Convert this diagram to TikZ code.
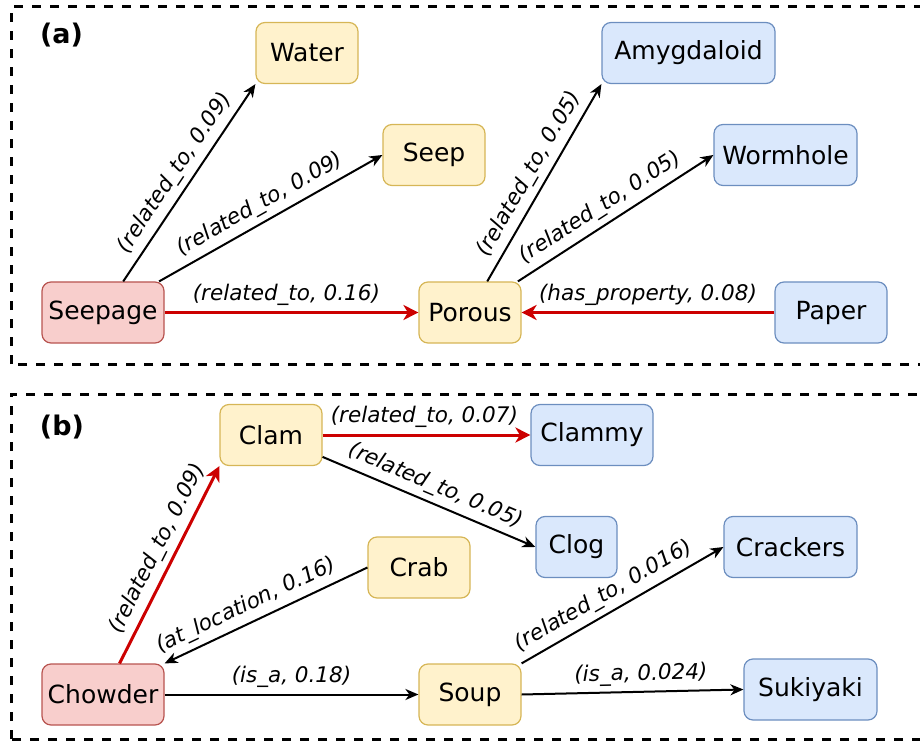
\documentclass[tikz,border=0pt]{standalone}
\usepackage{fontspec}
\setmainfont{DejaVu Sans}
\usetikzlibrary{arrows.meta}
\definecolor{yfill}{HTML}{FFF2CC}
\definecolor{ydraw}{HTML}{D6B656}
\definecolor{bfill}{HTML}{DAE8FC}
\definecolor{bdraw}{HTML}{6C8EBF}
\definecolor{rfill}{HTML}{F8CECC}
\definecolor{rdraw}{HTML}{B85450}
\definecolor{linkred}{HTML}{CC0000}
\begin{document}
\begin{tikzpicture}[
        x=1pt, y=1pt,
        every node/.style={font=\fontsize{25}{30}\selectfont},
        concept/.style={draw, rounded corners=9pt, minimum height=61pt, line width=1.2pt, inner sep=2pt},
        yellown/.style={concept, fill=yfill, draw=ydraw},
        bluen/.style={concept, fill=bfill, draw=bdraw},
        redn/.style={concept, fill=rfill, draw=rdraw},
        rel/.style={draw, line width=2pt, -{Stealth[length=13pt, width=11pt, inset=4pt]}},
        strong/.style={draw=linkred, line width=3pt, -{Stealth[length=15pt, width=15pt, inset=4.5pt]}},
        lbl/.style={font=\fontsize{21.5}{26}\selectfont\itshape, sloped, above, inner sep=5.5pt},
        panel/.style={draw, line width=3pt, dash pattern=on 9pt off 9pt},
        tag/.style={font=\fontsize{27}{30}\selectfont\bfseries},
    ]
    \useasboundingbox (0,0) rectangle (920,740);
    \clip (0,0) rectangle (920,740);
    \draw[panel] (11,376) rectangle (940,733);
    \draw[panel] (11,1) rectangle (940,346);
    \node[tag] (taga) at (61.5,705) {(a)};
    \node[tag] (tagb) at (62,313) {(b)};

    % (a)
    \node[redn, minimum width=122pt] (seepage) at (103,427.5) {Seepage};
    \node[yellown, minimum width=102pt] (water) at (307,687) {Water};
    \node[yellown, minimum width=102pt] (seep) at (434,585) {Seep};
    \node[yellown, minimum width=102pt] (porous) at (470,427.5) {Porous};
    \node[bluen, minimum width=173pt] (amygdaloid) at (688.5,687) {Amygdaloid};
    \node[bluen, minimum width=143pt] (wormhole) at (785.5,585) {Wormhole};
    \node[bluen, minimum width=112pt] (paper) at (831,427.5) {Paper};

    \draw[rel] (seepage.57) -- node[lbl, pos=0.5] {(related\_to, 0.09)} (water.south west);
    \draw[rel] (seepage.29.5) -- node[lbl, pos=0.49] {(related\_to, 0.09)} (seep.west);
    \draw[strong] (seepage.east) -- node[lbl, pos=0.48] {(related\_to, 0.16)} (porous.west);
    \draw[rel] (porous.61) -- node[lbl, pos=0.5] {(related\_to, 0.05)} (amygdaloid.south west);
    \draw[rel] (porous.33) -- node[lbl, pos=0.47] {(related\_to, 0.05)} (wormhole.west);
    \draw[strong] (paper.west) -- node[lbl, pos=0.5] {(has\_property, 0.08)} (porous.east);

    % (b)
    \node[redn, minimum width=122pt] (chowder) at (103,45.5) {Chowder};
    \node[yellown, minimum width=102pt] (clam) at (271,305) {Clam};
    \node[yellown, minimum width=102pt] (crab) at (419,172.5) {Crab};
    \node[yellown, minimum width=102pt] (soup) at (470,45.5) {Soup};
    \node[bluen, minimum width=122pt] (clammy) at (592,305) {Clammy};
    \node[bluen, minimum width=81pt] (clog) at (576.5,193) {Clog};
    \node[bluen, minimum width=133pt] (crackers) at (790.5,193) {Crackers};
    \node[bluen, minimum width=133pt] (sukiyaki) at (810.5,50.5) {Sukiyaki};

    \draw[strong] (chowder.62) -- node[lbl, pos=0.54] {(related\_to, 0.09)} (clam.south west);
    \draw[strong] (clam.east) -- node[lbl, pos=0.49] {(related\_to, 0.07)} (clammy.west);
    \draw[rel] (clam.-23) -- node[lbl, pos=0.5] {(related\_to, 0.05)} (clog.west);
    \draw[rel] (crab.west) -- node[lbl, pos=0.56] {(at\_location, 0.16)} (chowder.north east);
    \draw[rel] (chowder.east) -- node[lbl, pos=0.5] {(is\_a, 0.18)} (soup.west);
    \draw[rel] (soup.north east) -- node[lbl, pos=0.45] {(related\_to, 0.016)} (crackers.west);
    \draw[rel] (soup.east) -- node[lbl, pos=0.54] {(is\_a, 0.024)} (sukiyaki.west);
\end{tikzpicture}
\end{document}
